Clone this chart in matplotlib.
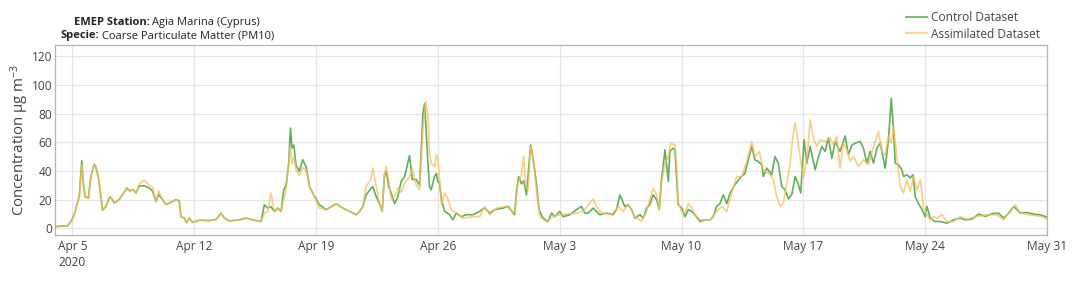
import matplotlib
matplotlib.use("Agg")
import matplotlib.pyplot as plt
import pandas as pd
import numpy as np

# ---------------- data (days relative to 2020-04-05 00:00) ----------------
early_days = [-1.00, -0.29, -0.09, 0.10, 0.39, 0.54, 0.63, 0.73, 0.92, 1.06, 1.25, 1.34, 1.50,
              1.73, 1.92, 2.15, 2.30, 2.40, 2.69, 2.88, 3.13, 3.30, 3.49, 3.65, 3.84, 4.13,
              4.41, 4.60, 4.80, 4.95, 5.18, 5.37, 5.56, 5.76, 5.95, 6.14, 6.24, 6.43, 6.56,
              6.72, 6.91, 7.29, 7.86, 8.25, 8.54, 8.73, 9.02, 9.59, 9.98, 10.36, 10.84, 11.03,
              11.22, 11.41, 11.60, 11.80, 11.99, 12.14, 12.28, 12.43, 12.53, 12.62, 12.72,
              12.85, 13.04, 13.23, 13.43, 13.62, 13.81, 14.19, 14.58, 15.16, 15.54, 15.92,
              16.31, 16.50, 16.69, 16.88, 17.17, 17.26, 17.46, 17.65, 17.80, 17.93, 18.03,
              18.18, 18.32, 18.51, 18.70, 18.89, 19.09, 19.37, 19.53, 19.76, 19.95, 20.14]
early_control = [1.1, 1.6, 4.6, 9.3, 22, 47, 31, 22, 21, 36, 44.5, 43, 35,
                 12.7, 15, 22, 20, 17.5, 20, 23.4, 28, 26, 27, 24.5, 29.5, 29.6,
                 28, 26, 18.6, 23.5, 20, 16.5, 17.5, 18.7, 20, 19, 8, 7, 3.9,
                 7, 4, 5.5, 5.3, 6, 10.5, 7, 5.0, 5.8, 7.0, 5.8, 4.6, 16.4,
                 14, 15, 11.7, 14, 11.7, 26.8, 30, 45.4, 69.9, 56, 58,
                 44, 39.6, 47.8, 43, 29.1, 24.5, 16.4, 12.9, 17, 14, 11.7,
                 9.4, 11.7, 15.2, 23.3, 28, 29, 22, 17, 11.7, 37, 39.6,
                 29, 24.5, 17.1, 22, 32.6, 36, 50.7, 34, 34, 30, 80]
early_assim = [1.1, 1.6, 4.6, 9.3, 22, 44, 31, 22, 21, 36, 44.5, 43, 35,
               12.7, 15, 22, 20, 17.5, 20, 23.4, 28, 26, 27, 24.5, 31, 33.7,
               30, 28.5, 18.6, 26, 20, 16.5, 17.5, 18.7, 20, 19, 8, 7, 3.9,
               7, 4, 5.5, 5.3, 6, 10.5, 7, 5.0, 5.8, 7.0, 5.8, 4.6, 10.4,
               11.7, 24.5, 11.7, 14, 11.7, 20, 26.8, 45.4, 57, 45, 50,
               40.5, 37, 42, 40.5, 29.1, 24.5, 14, 12.9, 17, 14, 11.7,
               9.4, 11.7, 15.2, 29, 34.9, 42, 29, 17, 11.7, 38, 43,
               33, 20.4, 22, 28, 25, 31.4, 36, 41, 30, 26.8, 69.6]

late_control_days = [20.24, 20.43, 20.52, 20.62, 20.71, 20.81, 20.91, 21.00, 21.10, 21.20, 21.39,
                     21.67, 21.86, 22.06, 22.35, 22.63, 23.02, 23.40, 23.69, 23.98, 24.26, 24.74,
                     25.03, 25.41, 25.51, 25.64, 25.80, 25.93, 26.09, 26.24, 26.33, 26.47, 26.66,
                     26.81, 27.04, 27.33, 27.53, 27.72, 28.00, 28.19, 28.58, 28.96, 29.25, 29.44,
                     29.63, 29.92, 30.30, 30.69, 31.07, 31.26, 31.46, 31.74, 31.93, 32.13, 32.32,
                     32.61, 32.80, 32.99, 33.18, 33.37, 33.57, 33.72, 33.85, 34.05, 34.24, 34.33,
                     34.52, 34.62, 34.72, 34.81, 35.01, 35.20, 35.39, 35.58, 35.77, 36.06, 36.35,
                     36.63, 36.82, 37.02, 37.21, 37.40, 37.60, 37.79, 38.07, 38.36, 38.65, 38.84,
                     39.03, 39.22, 39.41, 39.61, 39.70, 39.90, 40.18, 40.37, 40.56, 40.76, 40.95,
                     41.14, 41.34, 41.53, 41.72, 41.85, 42.04, 42.20, 42.39, 42.58, 42.68, 42.87,
                     43.06, 43.25, 43.44, 43.64, 43.83, 44.11, 44.40, 44.59, 44.79, 44.98, 45.26,
                     45.45, 45.65, 45.84, 46.03, 46.23, 46.42, 46.70, 46.89, 47.05, 47.18, 47.28,
                     47.47, 47.66, 47.76, 47.95, 48.14, 48.30, 48.43, 48.62, 48.82, 49.00, 49.10,
                     49.29, 49.58, 49.87, 50.25, 50.63, 51.02, 51.31, 51.69, 52.07, 52.46, 52.84,
                     53.22, 53.51, 53.80, 54.09, 54.28, 54.47, 54.86, 55.24, 55.62, 56.00]
late_control_vals = [87, 45, 29, 26.8, 31.4, 36, 38.3, 32.6, 31.4, 20.4, 11.7,
                     9.4, 5.8, 10.5, 8, 9.4, 9.4, 11.7, 14, 10.5, 12.9, 14,
                     15.2, 9.4, 24.5, 36, 31, 33, 23.3, 45.4, 58.1, 48.8, 31.4,
                     12.9, 7, 4.6, 10.5, 8, 11.7, 8, 9.4, 12.9, 15.2, 10.5,
                     10.5, 14, 9.4, 10.5, 9.4, 12.9, 23.3, 15.1, 16.4, 12.9, 7,
                     9.4, 7, 14, 16.4, 23.3, 19.8, 12.9, 33.9, 54.7, 32.6, 53.6,
                     55.9, 54.7, 33.9, 16.4, 14, 8, 12.9, 11.7, 9.4, 4.6, 5.8,
                     5.8, 8, 15.2, 17.1, 23.3, 17.1, 24.5, 30.3, 35, 38.5, 47.7,
                     57, 47.7, 46.6, 44.3, 36.1, 41.9, 37.3, 50, 45.4, 29.1, 26.8,
                     20.4, 23.7, 36.1, 30.3, 24.5, 61.7, 45.4, 57, 46.6, 40.8, 50,
                     57, 53.6, 63, 48.8, 60.6, 53.6, 64.4, 51.3, 58.1, 59.4, 60.6,
                     56, 45.4, 53.6, 45.4, 56, 59.4, 41.9, 61.7, 90.8, 68.8, 45.4,
                     44.3, 40.8, 36.1, 37.3, 35, 37.3, 22, 17.1, 12.9, 8, 15.2,
                     7, 4.6, 4.6, 3.5, 5.8, 7, 5.8, 6.3, 9.8, 8.2, 10.1,
                     10.5, 7, 10.5, 15.1, 12.8, 10.5, 10.9, 9.8, 9.3, 7.7]

late_assim_days = [20.30, 20.43, 20.52, 20.62, 20.81, 20.91, 21.00, 21.10, 21.20, 21.39, 21.58,
                   21.77, 22.06, 22.44, 23.02, 23.40, 23.69, 23.98, 24.36, 24.93, 25.41, 25.60,
                   25.80, 25.93, 26.05, 26.18, 26.33, 26.47, 26.66, 26.85, 27.24, 27.62, 28.00,
                   28.96, 29.34, 29.92, 30.11, 30.40, 30.97, 31.36, 31.65, 31.93, 32.32, 32.70,
                   32.99, 33.37, 33.57, 33.72, 33.85, 34.05, 34.24, 34.37, 34.62, 34.72, 34.81,
                   35.01, 35.20, 35.39, 35.58, 35.77, 36.06, 36.63, 37.02, 37.31, 37.60, 37.88,
                   38.17, 38.46, 38.75, 39.03, 39.22, 39.47, 39.70, 40.09, 40.28, 40.47, 40.66,
                   40.85, 41.05, 41.24, 41.39, 41.53, 41.68, 41.81, 42.00, 42.20, 42.39, 42.58,
                   42.77, 42.96, 43.25, 43.54, 43.73, 43.92, 44.11, 44.30, 44.50, 44.69, 44.88,
                   45.17, 45.45, 45.74, 46.03, 46.32, 46.51, 46.70, 46.89, 47.05, 47.18, 47.38,
                   47.57, 47.76, 47.95, 48.14, 48.33, 48.53, 48.72, 48.91, 49.10, 49.29, 49.48,
                   49.68, 49.97, 50.25, 50.63, 51.02, 51.40, 51.98, 52.55, 53.13, 53.51, 53.90,
                   54.18, 54.47, 55.05, 55.62, 56.00]
late_assim_vals = [88.6, 77.8, 52.5, 45, 43, 51.3, 48.8, 33.9, 16.4, 24.5, 20.4,
                   12.9, 10.5, 7, 8, 8, 15.2, 9.4, 14, 15.2, 10.5, 31.4,
                   37, 50.1, 29.1, 26.8, 57, 50.1, 26.8, 8, 4.6, 8, 9.4,
                   10.5, 11.7, 20.4, 15.2, 10.5, 9.4, 15.1, 11.7, 16.4, 8, 4.6,
                   11.7, 27.9, 23.3, 12.9, 31.4, 45.4, 50, 59.4, 58.1, 42.9, 17.9,
                   11.7, 10.5, 17.1, 14.7, 9.4, 5.8, 5.8, 11.7, 15.2, 11.7, 24.5,
                   36.1, 36.1, 46.6, 60.6, 50, 53.6, 40.8, 37.3, 33.9, 22, 15.2,
                   17.5, 31.4, 45.4, 63, 73.4, 61.7, 49.9, 34.9, 48.8, 75.7, 62.9,
                   57, 61.7, 60.6, 62.9, 58.1, 64.4, 41.9, 59.4, 54.7, 46.6, 50,
                   43.1, 47.7, 44.3, 57, 67.5, 53.6, 51.3, 64.4, 59.4, 71, 49,
                   29.1, 24.5, 33.9, 25.6, 36.1, 26.8, 33.9, 14, 9.4, 5.8, 8,
                   7, 9.4, 4.6, 4.6, 8, 6.3, 8.2, 9.3, 9.3, 5.8, 12.8,
                   16.3, 10.5, 9.3, 8.2, 6.3]

tick_dates = ["2020-04-05", "2020-04-12", "2020-04-19", "2020-04-26", "2020-05-03",
              "2020-05-10", "2020-05-17", "2020-05-24", "2020-05-31"]
tick_labels = ["Apr 5\n2020", "Apr 12", "Apr 19", "Apr 26", "May 3",
               "May 10", "May 17", "May 24", "May 31"]
y_ticks = [0, 20, 40, 60, 80, 100, 120]
series_names = ["Control Dataset", "Assimilated Dataset"]

# ---------------- build series ----------------
base = pd.Timestamp("2020-04-05")
ctrl_t = base + pd.to_timedelta(np.array(early_days + late_control_days), unit="D")
ctrl_v = np.array(early_control + late_control_vals)
assim_t = base + pd.to_timedelta(np.array(early_days + late_assim_days), unit="D")
assim_v = np.array(early_assim + late_assim_vals)

# ---------------- style ----------------
FONT = ["Open Sans", "DejaVu Sans"]
plt.rcParams["font.family"] = FONT
plt.rcParams["mathtext.fontset"] = "custom"
plt.rcParams["mathtext.rm"] = "Open Sans"
plt.rcParams["mathtext.it"] = "Open Sans"
plt.rcParams["mathtext.default"] = "regular"
TXT = "#444444"
GREEN = "#5BAA55"
ORANGE = "#F7BE5C"

W, H = 1079, 281
fig = plt.figure(figsize=(W / 100, H / 100), dpi=100)
ax = fig.add_axes([55 / W, 1 - 235 / H, (1047 - 55) / W, (235 - 45) / H])

ax.plot(ctrl_t, ctrl_v, color=GREEN, lw=1.2, alpha=0.95, label=series_names[0], zorder=3)
ax.plot(assim_t, assim_v, color=ORANGE, lw=1.2, alpha=0.75, label=series_names[1], zorder=4)

ax.set_xlim(pd.Timestamp("2020-04-04"), pd.Timestamp("2020-05-31"))
ax.set_ylim(-4.8, 128)
ax.set_xticks(pd.to_datetime(tick_dates))
ax.set_xticklabels(tick_labels, linespacing=1.3)
ax.set_yticks(y_ticks)
ax.tick_params(axis="both", length=0, labelsize=8.6, colors=TXT)
ax.tick_params(axis="x", pad=3.5)
ax.tick_params(axis="y", pad=2)
for lab in ax.get_xticklabels():
    lab.set_verticalalignment("top")
ax.grid(True, color="#e6e6e6", lw=0.9, zorder=0)
ax.set_axisbelow(True)
for s in ax.spines.values():
    s.set_color("#b5b5b5")
    s.set_linewidth(0.9)

ax.set_ylabel("Concentration μg m$^{-3}$", fontsize=10.8, color=TXT)
ax.yaxis.set_label_coords(-0.024, 0.5)

# legend
fig.legend(loc="upper left", bbox_to_anchor=(906 / W, 1 - 11 / H), frameon=False,
           fontsize=8.6, handlelength=1.75, handletextpad=0.35, labelspacing=0.3,
           borderpad=0, borderaxespad=0, labelcolor=TXT)

# title with mixed weight
renderer = fig.canvas.get_renderer()


def mixed_line(y_px, bold, regular, cx_px, size):
    tb = fig.text(0, 1 - y_px / H, bold, fontweight="bold", fontsize=size, color="#222222",
                  va="baseline", ha="left")
    tr = fig.text(0, 1 - y_px / H, regular, fontsize=size, color="#222222",
                  va="baseline", ha="left")
    wb = tb.get_window_extent(renderer).width
    wr = tr.get_window_extent(renderer).width
    gap = size * 0.35
    total = wb + gap + wr
    x0 = cx_px - total / 2
    tb.set_x(x0 / W)
    tr.set_x((x0 + wb + gap) / W)


mixed_line(25, "EMEP Station:", "Agia Marina (Cyprus)", 167, 8.0)
mixed_line(38, "Specie:", "Coarse Particulate Matter (PM10)", 167, 8.0)

fig.savefig("out.png", dpi=100)
